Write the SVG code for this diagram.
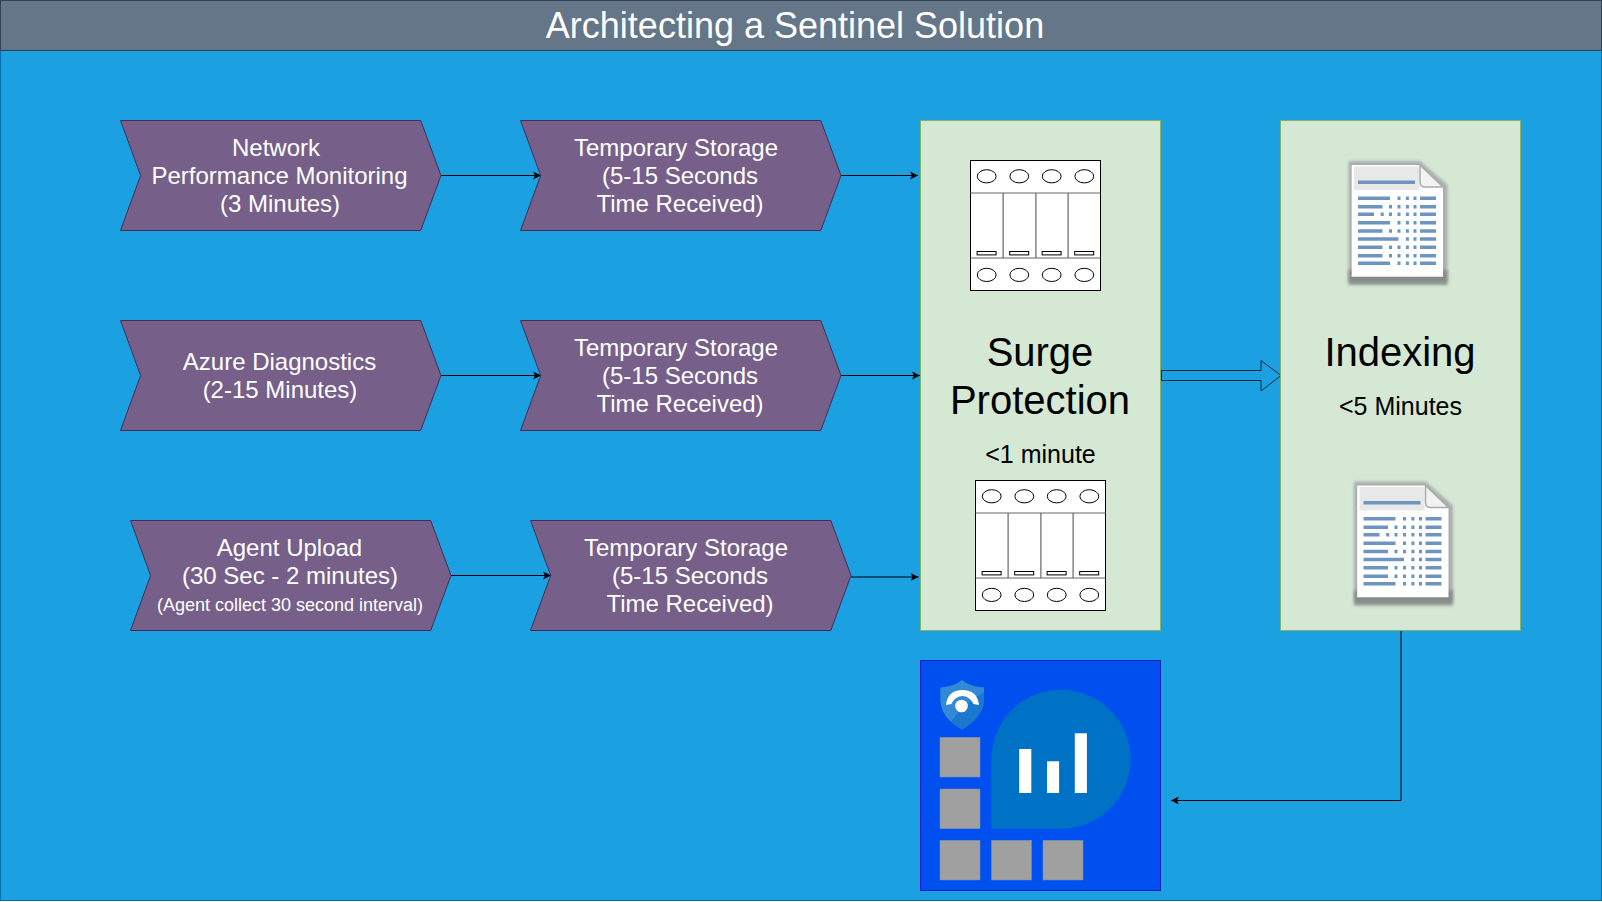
<svg xmlns="http://www.w3.org/2000/svg" xmlns:xlink="http://www.w3.org/1999/xlink" width="1602" height="902" viewBox="0 0 1602 902">
<style>
text{font-family:"Liberation Sans",Arial,sans-serif;text-anchor:middle}
.w{fill:#fff;font-size:24px}
.k{fill:#000;font-size:25px}
.big{fill:#000;font-size:40px}
.chev{fill:#76608a;stroke:#432d57;stroke-width:1}
.panel{fill:#d5e8d4;stroke:#82b366;stroke-width:1}
.gray{fill:#a0a0a0;stroke:#7a8fb8;stroke-width:.5}
.bar{fill:#fff}
.conn{fill:none;stroke:#000;stroke-width:1;marker-end:url(#ah)}
.doc-line{fill:none;stroke:#6d95bf;stroke-width:3.400}
</style>
<defs>
<marker id="ah" markerUnits="userSpaceOnUse" markerWidth="9" markerHeight="9" refX="8" refY="4.500" orient="auto"><path d="M0 0.500L8 4.500L0 8.500L2 4.500Z" fill="#000"/></marker>
<filter id="blur" x="-20%" y="-20%" width="140%" height="140%"><feGaussianBlur stdDeviation="1.800"/></filter>
<filter id="soft" x="-5%" y="-5%" width="110%" height="110%"><feGaussianBlur stdDeviation="0.700"/></filter>
<g id="spd">
<rect x="0" y="0" width="130" height="130" fill="#fff" stroke="#000" stroke-width="1"/>
<path d="M0 32.500H130M0 97.500H130M32.600 32.500V97.500M65.400 32.500V97.500M97.600 32.500V97.500" fill="none" stroke="#666" stroke-width="1.200"/>
<g fill="#fff" stroke="#000" stroke-width="1">
<ellipse cx="16.200" cy="15.800" rx="9.400" ry="6.600"/><ellipse cx="48.800" cy="15.800" rx="9.400" ry="6.600"/><ellipse cx="81.200" cy="15.800" rx="9.400" ry="6.600"/><ellipse cx="113.800" cy="15.800" rx="9.400" ry="6.600"/>
<ellipse cx="16.200" cy="114.400" rx="9.400" ry="6.600"/><ellipse cx="48.800" cy="114.400" rx="9.400" ry="6.600"/><ellipse cx="81.200" cy="114.400" rx="9.400" ry="6.600"/><ellipse cx="113.800" cy="114.400" rx="9.400" ry="6.600"/>
<rect x="6.600" y="91" width="19" height="3.400"/><rect x="39.200" y="91" width="19" height="3.400"/><rect x="71.600" y="91" width="19" height="3.400"/><rect x="104.200" y="91" width="19" height="3.400"/>
</g>
</g>
<g id="doc">
<path d="M0.500 1H72L99.500 25V122H0.500Z" fill="#a9aead" filter="url(#blur)"/>
<path d="M0.500 110H99.500V125H0.500Z" fill="#7f8482" filter="url(#blur)" opacity=".8"/>
<path d="M3.700 5H72L95 27V116.700H3.700Z" fill="#fff"/>
<path d="M6 6.500H71V30H6Z" fill="#e8e8e8" filter="url(#soft)"/>
<path d="M72 5L95 27H77Q72 27 72 22Z" fill="#f2f2f2" stroke="#a8acaa" stroke-width="1.500" filter="url(#soft)"/>
<g filter="url(#soft)">
<path class="doc-line" d="M10 22.300H67"/>
<path class="doc-line" d="M10 38.300H42M49.500 38.300h3M57.900 38.300h3M65.500 38.300h3M72 38.300H88M10 46.700H34.500M41 46.700h3M49.500 46.700h3M57.900 46.700h3M65.500 46.700h3M72 46.700H88M10 54.300H26M32.700 54.300h3M41 54.300h3M49.500 54.300h3M57.900 54.300h3M65.500 54.300h3M72 54.300H88M10 62.700H42M49.500 62.700h3M57.900 62.700h3M65.500 62.700h3M72 62.700H88M10 71H34.500M41 71h3M49.500 71h3M57.900 71h3M65.500 71h3M72 71H88M10 79H50.500M57.900 79h3M65.500 79h3M72 79H88M10 87.300H34.500M41 87.300h3M49.500 87.300h3M57.900 87.300h3M65.500 87.300h3M72 87.300H88M10 95.700H34.500M41 95.700h3M49.500 95.700h3M57.900 95.700h3M65.500 95.700h3M72 95.700H88M10 103.300H42M49.500 103.300h3M57.900 103.300h3M65.500 103.300h3M72 103.300H88"/>
</g>
</g>
</defs>
<g id="background"><rect x="0.500" y="0.500" width="1601" height="900" fill="#1ba1e2" stroke="#006eaf"/></g>
<g id="title"><rect x="0.500" y="0.500" width="1601" height="50" fill="#647687" stroke="#314354"/><text x="795" y="38" fill="#fff" font-size="36">Architecting a Sentinel Solution</text></g>

<g id="connectors">
<path class="conn" d="M441 175.500H541"/>
<path class="conn" d="M841 175.500H918"/>
<path class="conn" d="M441 375.500H541"/>
<path class="conn" d="M841 375.500H920"/>
<path class="conn" d="M451 575.500H551"/>
<path class="conn" d="M851 577H918.500"/>
<path class="conn" d="M1401 631V800.500H1171"/>
<path d="M1161.500 370.500H1261V360.500L1281 375.500L1261 391V380.500H1161.500Z" fill="#1ba1e2" stroke="#10283a" stroke-width="1"/>
</g>

<g id="node-network"><path class="chev" d="M120.500 120.500H420.700L441 175.500L420.700 230.500H120.500L140.600 175.500Z"/><text class="w" x="276" y="156">Network</text><text class="w" x="279.500" y="184">Performance Monitoring</text><text class="w" x="280" y="212">(3 Minutes)</text></g>
<g id="node-temp1"><path class="chev" d="M520.500 120.500H820.800L841 175.500L820.800 230.500H520.500L540.700 175.500Z"/><text class="w" x="676" y="156">Temporary Storage</text><text class="w" x="680" y="184">(5-15 Seconds</text><text class="w" x="680" y="212">Time Received)</text></g>
<g id="node-azure"><path class="chev" d="M120.500 320.500H420.700L441 375.500L420.700 430.500H120.500L140.600 375.500Z"/><text class="w" x="279.500" y="370">Azure Diagnostics</text><text class="w" x="280" y="398">(2-15 Minutes)</text></g>
<g id="node-temp2"><path class="chev" d="M520.500 320.500H820.800L841 375.500L820.800 430.500H520.500L540.700 375.500Z"/><text class="w" x="676" y="356">Temporary Storage</text><text class="w" x="680" y="384">(5-15 Seconds</text><text class="w" x="680" y="412">Time Received)</text></g>
<g id="node-agent"><path class="chev" d="M130.500 520.500H430.700L451 575.500L430.700 630.500H130.500L150.600 575.500Z"/><text class="w" x="289.500" y="556">Agent Upload</text><text class="w" x="290" y="584">(30 Sec - 2 minutes)</text><text class="w" style="font-size:18px" x="290" y="611">(Agent collect 30 second interval)</text></g>
<g id="node-temp3"><path class="chev" d="M530.500 520.500H830.800L851 575.500L830.800 630.500H530.500L550.700 575.500Z"/><text class="w" x="686" y="556">Temporary Storage</text><text class="w" x="690" y="584">(5-15 Seconds</text><text class="w" x="690" y="612">Time Received)</text></g>

<g id="node-surge"><rect class="panel" x="920.500" y="120.500" width="240" height="510"/>
<use xlink:href="#spd" href="#spd" x="970.500" y="160.500"/>
<use xlink:href="#spd" href="#spd" x="975.500" y="480.500"/>
<text class="big" x="1040" y="366">Surge</text><text class="big" x="1040" y="414">Protection</text><text class="k" x="1040.500" y="462.500">&lt;1 minute</text></g>
<g id="node-indexing"><rect class="panel" x="1280.500" y="120.500" width="240" height="510"/>
<use xlink:href="#doc" href="#doc" x="1348" y="160"/>
<use xlink:href="#doc" href="#doc" x="1353.500" y="480.500"/>
<text class="big" x="1400" y="366">Indexing</text><text class="k" x="1400.500" y="414.500">&lt;5 Minutes</text></g>
<g id="node-sentinel"><rect x="920.500" y="660.500" width="240" height="230" fill="#0050ef" stroke="#001dbc"/>
<path d="M962 680C956 685 948 687 940.500 687.500V700C940.500 713 951 724 962 729.500C973 724 984 713 984 700V687.500C976 687 968 685 962 680Z" fill="#1c78cd"/>
<path d="M962 680C956 685 948 687 940.500 687.500V700C940.500 709 945 716 951 722L963 706L984 692V687.500C976 687 968 685 962 680Z" fill="#3389d6"/>
<path d="M946 705C947 695 953 690 962.500 690C972 690 978 695 979 705L973.500 704C971 699 967 696 962.500 696C958 696 953.500 699 951.500 704Z" fill="#fff"/>
<circle cx="961.500" cy="706" r="6.300" fill="#fff"/>
<path d="M991.500 828.700V759.500A69.500 69.500 0 1 1 1061 828.700Z" fill="#0072c6"/>
<rect class="bar" x="1019.200" y="749" width="12.100" height="44"/><rect class="bar" x="1047" y="761.300" width="12.100" height="31.700"/><rect class="bar" x="1074.800" y="733.300" width="12.100" height="59.700"/>
<rect class="gray" x="940" y="737.300" width="40" height="39.700"/><rect class="gray" x="940" y="789" width="40" height="39.700"/><rect class="gray" x="940" y="840.300" width="40" height="39.700"/><rect class="gray" x="991.500" y="840.300" width="40" height="39.700"/><rect class="gray" x="1043" y="840.300" width="40" height="39.700"/></g>
</svg>
